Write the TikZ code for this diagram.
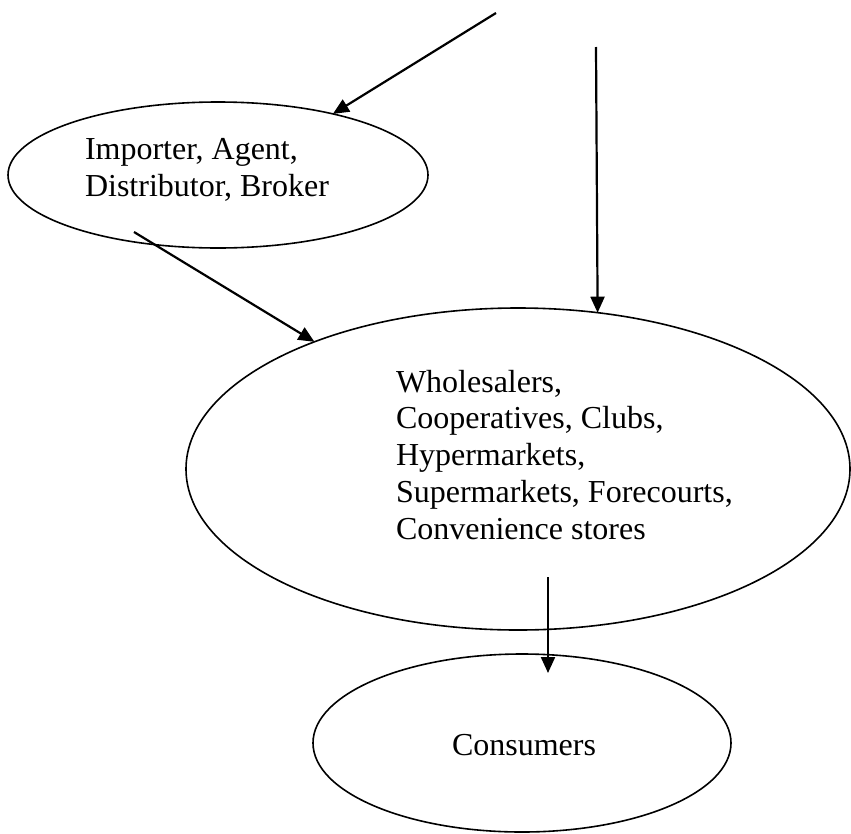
\documentclass[tikz,border=0pt]{standalone}
\usepackage{fontspec}
\setmainfont{Liberation Serif}
\usetikzlibrary{shapes.geometric,arrows.meta,calc}
\begin{document}
\begin{tikzpicture}[x=1pt,y=-1pt,
  oval/.style={draw,ellipse,line width=1.6pt,inner sep=0pt,outer sep=0pt},
  lbl/.style={font=\fontsize{32}{36.7}\selectfont,inner sep=0pt,outer sep=0pt,align=left},
  arr/.style={line width=2.2pt,-{Triangle[length=16pt,width=14pt]}}]
\path[use as bounding box] (0,0) rectangle (851,833);
% ellipses
\node[oval,minimum width=420pt,minimum height=146pt] (imp) at (218,175) {};
\node[oval,minimum width=664pt,minimum height=322pt] (ret) at (518,469) {};
\node[oval,minimum width=418pt,minimum height=178pt] (cons) at (522,743) {};
% texts
\node[lbl,anchor=north west] (impt) at (85,138.5) {Importer, Agent,\\Distributor, Broker};
\node[lbl,anchor=north west] (rett) at (396,370) {Wholesalers,\\Cooperatives, Clubs,\\Hypermarkets,\\Supermarkets, Forecourts,\\Convenience stores};
\node[lbl,anchor=base] (const) at (524,755) {Consumers};
% connector ends
\coordinate (s1) at (496,13);
\coordinate (s2) at (596,47);
\coordinate (s3) at (134,232);
\coordinate (s4) at (548,577);
\coordinate (t4) at (548,673);
% connectors
\draw[arr] (s1) -- (imp.28.8);
\draw[arr] (s2) -- (ret.63.9);
\draw[arr] (s3) -- (ret.148.8);
\draw[arr] (s4) -- (t4);
\end{tikzpicture}
\end{document}
